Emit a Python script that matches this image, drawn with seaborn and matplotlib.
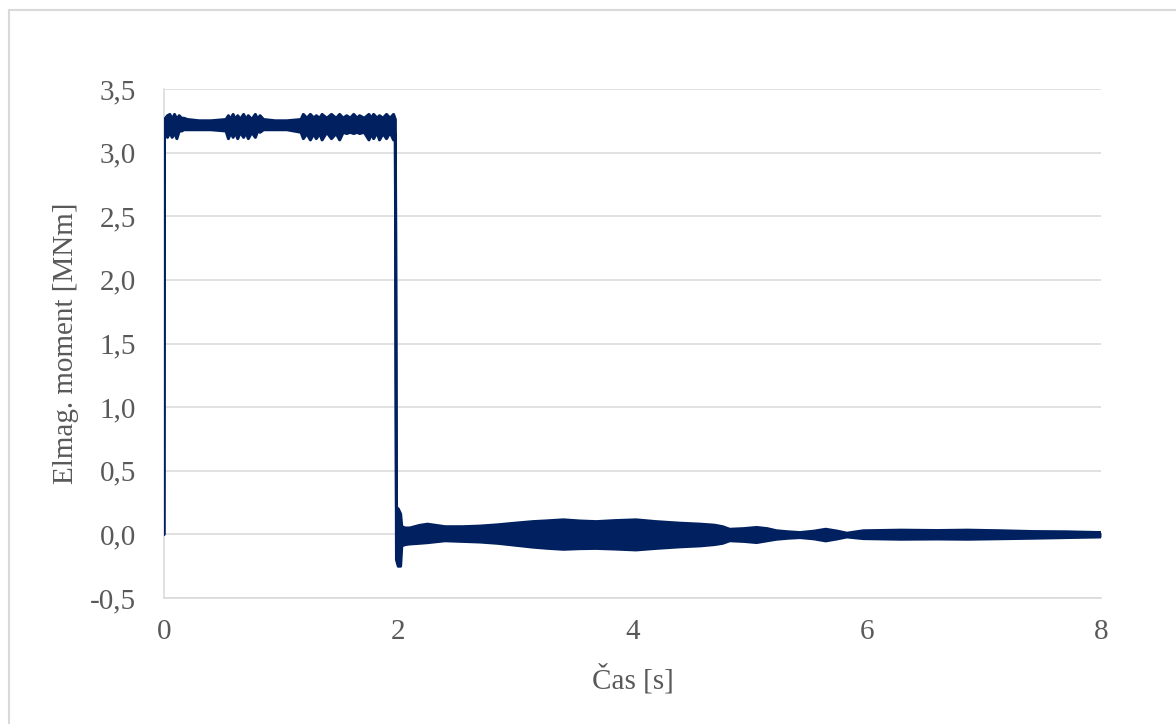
import matplotlib
matplotlib.use("Agg")
import matplotlib.pyplot as plt
from matplotlib.patches import Rectangle
from matplotlib.ticker import FuncFormatter
import numpy as np
import pandas as pd
import seaborn as sns

# Envelope of the electromagnetic torque [MNm] versus time [s]
# Loaded phase (0 - ~1.97 s)
t_hold = [
    0.000, 0.004, 0.03, 0.05, 0.07, 0.09, 0.11, 0.13, 0.15, 0.17,
    0.20, 0.30, 0.40, 0.53, 0.55, 0.57, 0.59, 0.61, 0.63, 0.65,
    0.68, 0.70, 0.72, 0.75, 0.78, 0.80, 0.82, 0.85, 0.95, 1.05,
    1.17, 1.19, 1.22, 1.25, 1.28, 1.30, 1.33, 1.35, 1.39, 1.43,
    1.47, 1.50, 1.53, 1.56, 1.59, 1.62, 1.65, 1.67, 1.71, 1.75,
    1.77, 1.79, 1.82, 1.84, 1.87, 1.90, 1.93, 1.96, 1.975]
up_hold = [
    0.00, 3.26, 3.29, 3.30, 3.26, 3.30, 3.26, 3.29, 3.27, 3.27,
    3.26, 3.25, 3.25, 3.26, 3.29, 3.26, 3.30, 3.26, 3.29, 3.26,
    3.30, 3.26, 3.29, 3.26, 3.30, 3.26, 3.29, 3.26, 3.25, 3.25,
    3.26, 3.30, 3.27, 3.30, 3.27, 3.29, 3.27, 3.30, 3.27, 3.30,
    3.27, 3.30, 3.27, 3.29, 3.27, 3.30, 3.27, 3.29, 3.27, 3.30,
    3.27, 3.30, 3.27, 3.29, 3.27, 3.30, 3.27, 3.30, 3.26]
lo_hold = [
    0.00, 3.16, 3.12, 3.16, 3.12, 3.16, 3.11, 3.17, 3.17, 3.18,
    3.18, 3.18, 3.18, 3.17, 3.11, 3.16, 3.12, 3.16, 3.11, 3.16,
    3.12, 3.16, 3.11, 3.16, 3.12, 3.17, 3.16, 3.18, 3.18, 3.18,
    3.16, 3.11, 3.15, 3.10, 3.15, 3.11, 3.15, 3.10, 3.16, 3.11,
    3.15, 3.10, 3.16, 3.15, 3.16, 3.15, 3.16, 3.15, 3.16, 3.10,
    3.15, 3.11, 3.16, 3.10, 3.15, 3.11, 3.16, 3.10, 3.15]

# After the load drop (~2 s - 8 s)
t_post = [
    1.985, 2.00, 2.02, 2.03, 2.06, 2.10, 2.18, 2.25, 2.40, 2.55,
    2.70, 2.85, 3.00, 3.15, 3.27, 3.41, 3.55, 3.69, 3.85, 4.03,
    4.20, 4.40, 4.58, 4.70, 4.77, 4.83, 4.95, 5.06, 5.15, 5.23,
    5.33, 5.43, 5.55, 5.65, 5.75, 5.83, 5.97, 6.29, 6.60, 6.86,
    7.15, 7.42, 7.70, 8.00]
up_post = [
    0.21, 0.20, 0.16, 0.06, 0.05, 0.05, 0.07, 0.08, 0.06, 0.06,
    0.065, 0.075, 0.088, 0.10, 0.106, 0.114, 0.105, 0.10, 0.108, 0.114,
    0.10, 0.088, 0.08, 0.072, 0.06, 0.04, 0.045, 0.054, 0.045, 0.028,
    0.02, 0.014, 0.025, 0.04, 0.025, 0.009, 0.028, 0.033, 0.03, 0.033,
    0.028, 0.022, 0.02, 0.014]
lo_post = [
    -0.20, -0.25, -0.25, -0.09, -0.08, -0.075, -0.07, -0.065, -0.05, -0.055,
    -0.06, -0.07, -0.085, -0.10, -0.109, -0.117, -0.112, -0.11, -0.115, -0.122,
    -0.11, -0.098, -0.09, -0.08, -0.07, -0.05, -0.055, -0.064, -0.05, -0.038,
    -0.03, -0.025, -0.035, -0.051, -0.035, -0.02, -0.033, -0.038, -0.036, -0.038,
    -0.034, -0.03, -0.025, -0.02]

x_ticks = [0, 2, 4, 6, 8]
y_ticks = [-0.5, 0.0, 0.5, 1.0, 1.5, 2.0, 2.5, 3.0, 3.5]
x_label = "Čas [s]"
y_label = "Elmag. moment [MNm]"

LINE = "#002060"
GRID = "#d9d9d9"
TEXT = "#595959"

env = pd.DataFrame({
    "t": t_hold + t_post,
    "upper": up_hold + up_post,
    "lower": lo_hold + lo_post,
})

sns.set_theme(style="whitegrid")
plt.rcParams["font.family"] = ["Liberation Serif", "DejaVu Serif"]

fig = plt.figure(figsize=(11.76, 7.24), dpi=100)
ax = fig.add_axes([164 / 1176, 1 - 598 / 724, (1101 - 164) / 1176, (598 - 89) / 724])

ax.fill_between(env["t"], env["lower"], env["upper"], color=LINE, lw=0, zorder=3)
sns.lineplot(data=env, x="t", y="upper", ax=ax, color=LINE, lw=2.2,
             estimator=None, sort=False, zorder=4)
sns.lineplot(data=env, x="t", y="lower", ax=ax, color=LINE, lw=2.2,
             estimator=None, sort=False, zorder=4)

ax.set_xlim(0, 8)
ax.set_ylim(-0.5, 3.5)
ax.set_xticks(x_ticks)
ax.set_yticks(y_ticks)
ax.yaxis.set_major_formatter(FuncFormatter(lambda v, p: f"{v:.1f}".replace(".", ",")))
ax.xaxis.set_major_formatter(FuncFormatter(lambda v, p: f"{v:.0f}"))

ax.grid(axis="y", color=GRID, lw=1.1)
ax.grid(axis="x", visible=False)
ax.set_facecolor("white")
for side in ("top", "right"):
    ax.spines[side].set_visible(False)
for side in ("left", "bottom"):
    ax.spines[side].set_color(GRID)
    ax.spines[side].set_linewidth(1.1)

ax.tick_params(axis="both", length=0, labelsize=21, colors=TEXT)
ax.tick_params(axis="y", pad=20)
ax.tick_params(axis="x", pad=15)

ax.set_xlabel(x_label, fontsize=21, color=TEXT, labelpad=14)
ax.set_ylabel(y_label, fontsize=21, color=TEXT, labelpad=8)

# Light frame around the chart area
fig.add_artist(Rectangle((8.5 / 1176, -0.05), 1.2, 1 - 10 / 724 + 0.05,
                         transform=fig.transFigure, fill=False,
                         ec=GRID, lw=1.5))

fig.savefig("out.png", dpi=100, facecolor="white")
